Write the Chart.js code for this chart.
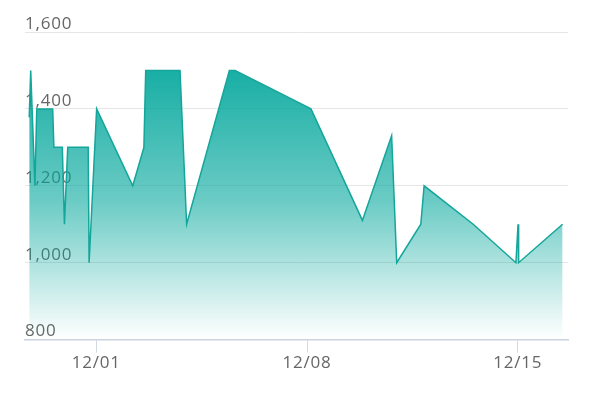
<!DOCTYPE html>
<html>
<head>
<meta charset="utf-8">
<script src="https://cdn.jsdelivr.net/npm/chart.js@4.4.1/dist/chart.umd.min.js"></script>
<style>
  html, body { margin: 0; padding: 0; background: #fff; }
  #chart { display: block; }
</style>
</head>
<body>
<canvas id="chart" width="592" height="395"></canvas>
<script>
// days relative to 12/01 (0 = 12/01)
const dayOffsets = [-2.23, -2.18, -2.04, -1.98, -1.45, -1.41, -1.13, -1.06, -0.95, -0.27,
  -0.24, 0.01, 1.21, 1.58, 1.64, 2.78, 3.00, 4.42, 4.61, 7.13,
  8.84, 9.81, 9.98, 10.78, 10.89, 12.52, 13.94, 14.01, 14.03, 15.49];
const prices = [1378, 1500, 1200, 1400, 1400, 1300, 1300, 1100, 1300, 1300,
  1000, 1400, 1200, 1300, 1500, 1500, 1100, 1500, 1500, 1400,
  1110, 1330, 1000, 1100, 1200, 1100, 1000, 1100, 1000, 1100];
const tickDays = [0, 7, 14];
const tickLabels = ['12/01', '12/08', '12/15'];

const lineColor = '#14a59b';
const textColor = '#666666';

const spacing = {
  id: 'spacing',
  beforeUpdate(chart) { chart.ctx.letterSpacing = '0.8px'; },
  beforeDraw(chart) { chart.ctx.letterSpacing = '0.8px'; }
};

const ctx = document.getElementById('chart');

new Chart(ctx, {
  type: 'line',
  data: {
    datasets: [{
      data: dayOffsets.map((d, i) => ({ x: d, y: prices[i] })),
      borderColor: lineColor,
      borderWidth: 1.5,
      pointRadius: 0,
      tension: 0,
      fill: 'start',
      backgroundColor: (c) => {
        const area = c.chart.chartArea;
        if (!area) return 'rgba(23,166,156,0.5)';
        const g = c.chart.ctx.createLinearGradient(0, area.top, 0, area.bottom);
        g.addColorStop(0, 'rgba(0,166,155,1)');
        g.addColorStop(0.55, 'rgba(0,166,155,0.58)');
        g.addColorStop(1, 'rgba(0,166,155,0)');
        return g;
      }
    }]
  },
  options: {
    responsive: false,
    animation: false,
    layout: { padding: { left: 25, right: 24, top: 32, bottom: 22 } },
    plugins: { legend: { display: false }, tooltip: { enabled: false } },
    scales: {
      x: {
        type: 'linear',
        min: -2.37,
        max: 15.67,
        afterBuildTicks: (scale) => { scale.ticks = tickDays.map(v => ({ value: v })); },
        ticks: {
          color: textColor,
          font: { family: 'Open Sans', size: 17 },
          padding: 0,
          maxRotation: 0,
          callback: (v) => tickLabels[tickDays.indexOf(v)]
        },
        grid: { drawOnChartArea: false, drawTicks: true, tickLength: 13, color: '#d3d8e2' },
        border: { color: '#ccd2de', width: 1.5 }
      },
      y: {
        min: 800,
        max: 1600,
        ticks: {
          stepSize: 200,
          mirror: true,
          padding: 0,
          labelOffset: -8,
          color: textColor,
          font: { family: 'Open Sans', size: 17 },
          callback: (v) => v.toLocaleString('en-US')
        },
        grid: { drawTicks: false, color: '#e6e6e6' },
        border: { display: false }
      }
    }
  },
  plugins: [spacing]
});
</script>
</body>
</html>
